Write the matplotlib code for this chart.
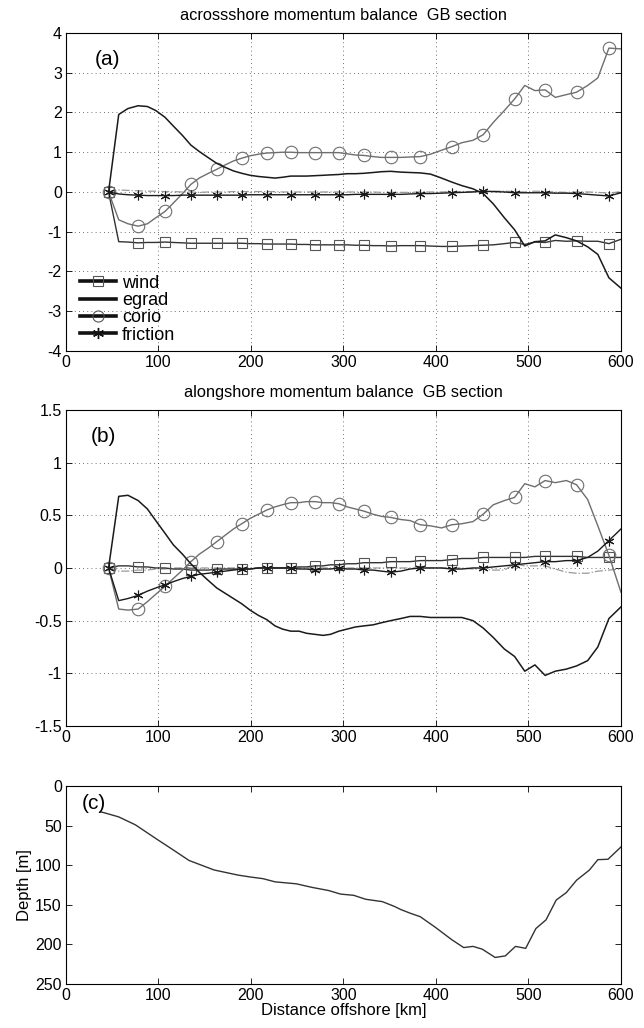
import numpy as np
import matplotlib
matplotlib.use('Agg')
import matplotlib.pyplot as plt
from matplotlib.lines import Line2D
from matplotlib.ticker import FuncFormatter

plt.rcParams['font.family'] = ['Liberation Sans', 'DejaVu Sans']
plt.rcParams['axes.unicode_minus'] = False

# model grid along the section (km offshore)
xkm = [46, 57, 67, 78, 88, 97, 107, 116, 126, 135, 144, 154, 163, 172, 181, 190,
       199, 208, 217, 226, 234, 243, 252, 260, 269, 278, 286, 295, 304, 313, 322,
       332, 341, 351, 362, 372, 383, 394, 406, 417, 428, 440, 451, 462, 474, 485,
       496, 507, 518, 529, 541, 552, 564, 575, 587, 600]

# (a) acrossshore terms
a_wind = [0, -1.25, -1.26, -1.28, -1.27, -1.27, -1.26, -1.27, -1.28, -1.29, -1.29,
          -1.29, -1.29, -1.29, -1.29, -1.29, -1.30, -1.30, -1.31, -1.31, -1.31,
          -1.31, -1.32, -1.32, -1.33, -1.33, -1.33, -1.33, -1.33, -1.34, -1.34,
          -1.35, -1.35, -1.36, -1.35, -1.35, -1.35, -1.36, -1.37, -1.37, -1.36,
          -1.35, -1.34, -1.33, -1.30, -1.27, -1.32, -1.26, -1.27, -1.22, -1.24,
          -1.23, -1.24, -1.24, -1.30, -1.19]
a_egrad = [0, 1.95, 2.10, 2.17, 2.15, 2.05, 1.88, 1.66, 1.42, 1.18, 1.02, 0.86,
           0.72, 0.62, 0.53, 0.47, 0.42, 0.39, 0.37, 0.35, 0.37, 0.40, 0.40, 0.40,
           0.41, 0.42, 0.43, 0.44, 0.46, 0.46, 0.47, 0.49, 0.51, 0.52, 0.50, 0.49,
           0.48, 0.45, 0.35, 0.25, 0.16, 0.08, -0.04, -0.30, -0.65, -0.95, -1.36,
           -1.25, -1.23, -1.08, -1.15, -1.23, -1.38, -1.57, -2.16, -2.42]
a_corio = [0, -0.70, -0.80, -0.86, -0.80, -0.65, -0.49, -0.28, -0.04, 0.19, 0.35,
           0.47, 0.57, 0.68, 0.78, 0.85, 0.91, 0.95, 0.98, 0.99, 1.00, 1.00, 0.99,
           0.99, 0.99, 0.99, 0.99, 0.99, 0.96, 0.93, 0.92, 0.89, 0.87, 0.87, 0.87,
           0.88, 0.89, 0.95, 1.05, 1.14, 1.24, 1.30, 1.44, 1.75, 2.05, 2.34, 2.68,
           2.55, 2.57, 2.38, 2.45, 2.51, 2.68, 2.87, 3.62, 3.60]
a_frict = [0, -0.05, -0.07, -0.08, -0.09, -0.09, -0.09, -0.09, -0.08, -0.08, -0.08,
           -0.08, -0.08, -0.08, -0.08, -0.08, -0.07, -0.07, -0.07, -0.07, -0.07,
           -0.07, -0.07, -0.07, -0.07, -0.07, -0.07, -0.07, -0.07, -0.06, -0.06,
           -0.06, -0.06, -0.06, -0.06, -0.05, -0.04, -0.04, -0.03, -0.02, -0.01,
           0.00, 0.02, 0.01, 0.00, -0.02, -0.02, -0.02, -0.02, -0.03, -0.03, -0.04,
           -0.06, -0.08, -0.10, -0.02]
a_accel = [0, 0.05, 0.04, 0.03, 0.02, 0.02, 0.01, 0.01, 0.00, 0.00, -0.01, 0.00,
           0.00, 0.00, 0.01, 0.01, 0.01, 0.01, 0.01, 0.01, 0.00, 0.00, 0.00, 0.00,
           0.00, 0.00, 0.00, 0.00, 0.00, 0.00, 0.00, 0.00, -0.01, -0.01, -0.01,
           -0.01, 0.00, 0.00, 0.00, 0.01, 0.01, 0.01, 0.02, 0.02, 0.02, 0.01, 0.00,
           0.02, 0.01, 0.00, -0.01, 0.00, 0.00, -0.01, -0.03, 0.01]

# (b) alongshore terms
b_wind = [0, 0.02, 0.02, 0.01, 0.01, 0.00, 0.00, -0.01, -0.01, -0.02, -0.02, -0.02,
          -0.01, -0.01, -0.01, -0.01, -0.01, 0.00, 0.00, 0.00, 0.00, 0.00, 0.01,
          0.01, 0.02, 0.02, 0.03, 0.03, 0.04, 0.04, 0.05, 0.05, 0.05, 0.06, 0.06,
          0.06, 0.07, 0.07, 0.07, 0.08, 0.09, 0.09, 0.10, 0.10, 0.10, 0.10, 0.10,
          0.11, 0.11, 0.11, 0.11, 0.11, 0.10, 0.10, 0.10, 0.10]
b_egrad = [0, 0.68, 0.69, 0.64, 0.56, 0.45, 0.33, 0.22, 0.13, 0.04, -0.04, -0.12,
           -0.19, -0.24, -0.29, -0.34, -0.40, -0.45, -0.49, -0.55, -0.58, -0.60,
           -0.60, -0.62, -0.63, -0.64, -0.63, -0.60, -0.58, -0.56, -0.55, -0.54,
           -0.52, -0.50, -0.48, -0.46, -0.46, -0.47, -0.47, -0.47, -0.47, -0.50,
           -0.57, -0.66, -0.77, -0.84, -0.98, -0.92, -1.02, -0.98, -0.96, -0.93,
           -0.88, -0.75, -0.48, -0.37]
b_corio = [0, -0.39, -0.40, -0.39, -0.32, -0.25, -0.175, -0.10, -0.02, 0.06, 0.13,
           0.19, 0.25, 0.31, 0.37, 0.42, 0.47, 0.51, 0.55, 0.58, 0.60, 0.62, 0.62,
           0.63, 0.63, 0.62, 0.62, 0.61, 0.58, 0.56, 0.54, 0.51, 0.49, 0.48, 0.46,
           0.45, 0.41, 0.40, 0.38, 0.41, 0.42, 0.44, 0.51, 0.60, 0.64, 0.67, 0.80,
           0.77, 0.83, 0.81, 0.83, 0.79, 0.65, 0.40, 0.12, -0.23]
b_frict = [0, -0.31, -0.29, -0.26, -0.22, -0.19, -0.16, -0.13, -0.10, -0.08, -0.06,
           -0.05, -0.04, -0.03, -0.02, -0.01, -0.01, 0.00, 0.00, 0.00, 0.00, 0.00,
           -0.01, -0.01, -0.02, -0.01, -0.01, 0.00, -0.01, -0.01, -0.02, -0.02,
           -0.03, -0.04, -0.03, -0.01, 0.00, 0.00, 0.00, -0.01, -0.01, 0.00, 0.00,
           0.01, 0.02, 0.03, 0.04, 0.05, 0.06, 0.06, 0.07, 0.07, 0.10, 0.16, 0.26,
           0.37]
b_accel = [0, -0.03, -0.03, -0.02, -0.02, -0.01, -0.01, 0.00, 0.00, 0.00, 0.00,
           0.00, 0.00, 0.00, 0.00, 0.00, 0.00, 0.00, 0.00, 0.00, 0.00, 0.00, 0.00,
           0.00, 0.00, 0.00, 0.00, 0.00, 0.00, 0.00, 0.00, 0.00, 0.00, 0.00, 0.00,
           0.00, 0.00, 0.00, 0.00, 0.00, 0.00, -0.01, -0.01, -0.02, -0.02, 0.04,
           0.02, 0.02, 0.02, -0.01, -0.04, -0.05, -0.05, -0.03, -0.02, -0.01]

# (c) bathymetry
xdep = [37, 42, 57, 75, 98, 115, 133, 160, 186, 200, 213, 226, 249, 266, 284, 297,
        311, 324, 342, 355, 362, 373, 383, 400, 417, 430, 440, 450, 464, 475, 486,
        497, 508, 519, 530, 541, 552, 566, 575, 586, 600]
depth = [32.5, 34, 39, 49, 67, 80, 94, 106, 112.5, 115, 117, 121, 123.5, 128, 132,
         136.5, 138, 143, 146, 152, 156, 161, 165, 179, 194, 204, 202.5, 206, 216.5,
         214.5, 202.5, 205, 180, 169, 144, 134.5, 119, 106, 93, 92.5, 77]

FS = 11.5
fmt = FuncFormatter(lambda v, p: '%g' % v)


def style(ax, grid=True):
    ax.set_xlim(0, 600)
    ax.set_xticks(np.arange(0, 601, 100))
    ax.tick_params(direction='in', top=True, right=True, length=4, width=0.6,
                   labelsize=FS, pad=3)
    ax.xaxis.set_major_formatter(fmt)
    ax.yaxis.set_major_formatter(fmt)
    for s in ax.spines.values():
        s.set_linewidth(0.8)
    if grid:
        ax.grid(True, linestyle=(0, (1, 4)), color='#444444', linewidth=0.6)


def balance(ax, wind, egrad, corio, frict, accel):
    ax.plot(xkm, accel, color='#999999', lw=0.9, ls='-.')
    ax.plot(xkm, wind, color='#333333', lw=1.0, marker='s', markevery=3, ms=7,
            mfc='none', mec='#555555', mew=0.8)
    ax.plot(xkm, corio, color='#6e6e6e', lw=1.0, marker='o', markevery=3, ms=9,
            mfc='none', mec='#6e6e6e', mew=0.8)
    ax.plot(xkm, frict, color='#1a1a1a', lw=1.0, marker=(6, 2, 0), markevery=3,
            ms=7, mec='#1a1a1a', mew=0.8)
    ax.plot(xkm, egrad, color='#1a1a1a', lw=1.1)


fig = plt.figure(figsize=(6.44, 10.28), dpi=100)
ax1 = fig.add_axes([0.1025, 0.6586, 0.8617, 0.3093])
ax2 = fig.add_axes([0.1025, 0.2938, 0.8617, 0.3074])
ax3 = fig.add_axes([0.1025, 0.0428, 0.8617, 0.1926])

balance(ax1, a_wind, a_egrad, a_corio, a_frict, a_accel)
style(ax1)
ax1.set_ylim(-4, 4)
ax1.set_yticks(np.arange(-4, 5, 1))
ax1.set_title('acrossshore momentum balance  GB section', fontsize=11.8, pad=9)
ax1.text(0.052, 0.918, '(a)', transform=ax1.transAxes, fontsize=15, va='center')

handles = [
    Line2D([], [], color='#111111', lw=2.6, marker='s', ms=7, mfc='none', mec='#555555', mew=0.8),
    Line2D([], [], color='#111111', lw=2.6),
    Line2D([], [], color='#111111', lw=2.6, marker='o', ms=8, mfc='none', mec='#555555', mew=0.8),
    Line2D([], [], color='#111111', lw=2.6, marker=(6, 2, 0), ms=8, mec='#111111', mew=1.0),
]
ax1.legend(handles, ['wind', 'egrad', 'corio', 'friction'], loc='lower left',
           frameon=False, fontsize=13, handlelength=1.95, handletextpad=0.35,
           labelspacing=0.02, borderaxespad=0.2, borderpad=0.2,
           bbox_to_anchor=(0.013, 0.0))

balance(ax2, b_wind, b_egrad, b_corio, b_frict, b_accel)
style(ax2)
ax2.set_ylim(-1.5, 1.5)
ax2.set_yticks(np.arange(-1.5, 1.51, 0.5))
ax2.set_title('alongshore momentum balance  GB section', fontsize=11.8, pad=9.5)
ax2.text(0.045, 0.915, '(b)', transform=ax2.transAxes, fontsize=15, va='center')

ax3.plot(xdep, depth, color='#333333', lw=1.0)
style(ax3, grid=False)
ax3.set_ylim(250, 0)
ax3.set_yticks(np.arange(0, 251, 50))
ax3.set_ylabel('Depth [m]', fontsize=12, labelpad=2)
ax3.set_xlabel('Distance offshore [km]', fontsize=12, labelpad=0)
ax3.text(0.029, 0.914, '(c)', transform=ax3.transAxes, fontsize=15, va='center')

fig.savefig('out.png', dpi=100)
